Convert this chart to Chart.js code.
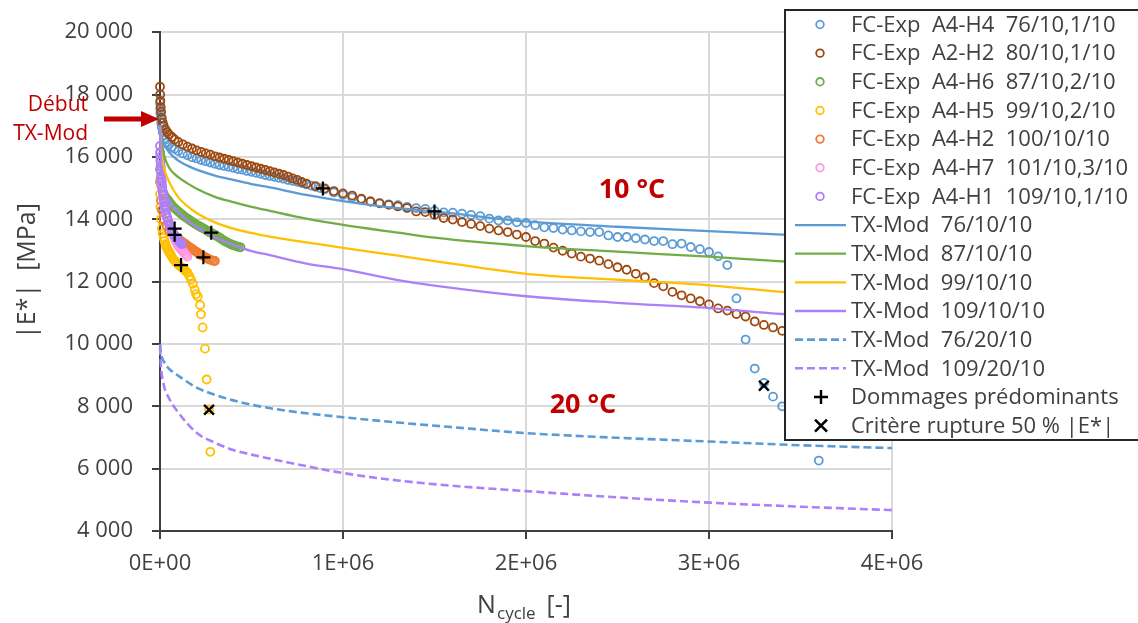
<!DOCTYPE html>
<html>
<head>
<meta charset="utf-8">
<script src="https://cdn.jsdelivr.net/npm/chart.js@4.4.1/dist/chart.umd.min.js"></script>
<style>
    html, body { margin: 0; padding: 0; background: #fff; }
    #wrap { width: 1138px; height: 623px; position: relative; }
</style>
</head>
<body>
<div id="wrap"><canvas id="modulusChart"></canvas></div>
<script>
// ---- data: [N cycles, |E*| MPa] ----
const expA4H4 = [[0,17730],[1000,17550],[2000,17400],[4000,17250],[6000,17100],[10000,16950],[15000,16800],[20000,16700],[30000,16560],[40000,16470],[50000,16400],[65000,16320],[80000,16260],[100000,16190],[125000,16110],[150000,16050],[175000,15990],[200000,15950],[225000,15900],[250000,15860],[275000,15820],[300000,15780],[325000,15740],[350000,15710],[375000,15680],[400000,15650],[425000,15610],[450000,15590],[475000,15550],[500000,15520],[525000,15490],[550000,15460],[575000,15420],[600000,15390],[625000,15360],[650000,15330],[675000,15300],[700000,15260],[725000,15230],[750000,15200],[775000,15160],[800000,15120],[825000,15080],[850000,15040],[875000,15000],[900000,14960],[950000,14860],[1000000,14780],[1050000,14700],[1100000,14640],[1150000,14570],[1200000,14520],[1250000,14480],[1300000,14450],[1350000,14400],[1400000,14360],[1450000,14330],[1500000,14270],[1550000,14220],[1600000,14210],[1650000,14180],[1700000,14140],[1750000,14100],[1800000,14020],[1850000,13960],[1900000,13960],[1950000,13900],[2000000,13880],[2050000,13810],[2100000,13740],[2150000,13720],[2200000,13670],[2250000,13640],[2300000,13610],[2350000,13590],[2400000,13590],[2450000,13480],[2500000,13430],[2550000,13430],[2600000,13390],[2650000,13350],[2700000,13300],[2750000,13300],[2800000,13200],[2850000,13220],[2900000,13110],[2950000,13040],[3000000,12950],[3050000,12810],[3100000,12530],[3150000,11460],[3200000,10140],[3250000,9210],[3300000,8750],[3350000,8310],[3400000,8000],[3600000,6260]];
const expA2H2 = [[0,18250],[1000,18000],[2000,17800],[4000,17600],[6000,17450],[10000,17250],[15000,17100],[20000,17000],[30000,16880],[40000,16790],[50000,16720],[65000,16640],[80000,16560],[100000,16480],[125000,16400],[150000,16330],[175000,16270],[200000,16210],[225000,16160],[250000,16110],[275000,16070],[300000,16020],[325000,15980],[350000,15940],[375000,15900],[400000,15860],[425000,15820],[450000,15780],[475000,15740],[500000,15700],[525000,15660],[550000,15620],[575000,15580],[600000,15540],[625000,15500],[650000,15460],[675000,15420],[700000,15370],[725000,15310],[750000,15260],[775000,15200],[800000,15140],[850000,15060],[900000,14990],[950000,14905],[1000000,14830],[1050000,14760],[1100000,14660],[1150000,14570],[1200000,14510],[1250000,14460],[1300000,14410],[1350000,14360],[1400000,14250],[1450000,14230],[1500000,14140],[1550000,14040],[1600000,13990],[1650000,13910],[1700000,13850],[1750000,13780],[1800000,13700],[1850000,13640],[1900000,13590],[1950000,13510],[2000000,13430],[2050000,13300],[2100000,13220],[2150000,13090],[2200000,12990],[2250000,12900],[2300000,12800],[2350000,12740],[2400000,12670],[2450000,12560],[2500000,12460],[2550000,12380],[2600000,12250],[2650000,12140],[2700000,11950],[2750000,11850],[2800000,11670],[2850000,11560],[2900000,11460],[2950000,11370],[3000000,11270],[3050000,11140],[3100000,11070],[3150000,10960],[3200000,10880],[3250000,10720],[3300000,10610],[3350000,10530],[3400000,10420]];
const expA4H6 = [[0,15600],[3000,15300],[6000,15100],[10000,14950],[15000,14870],[20000,14800],[25000,14750],[30000,14700],[37500,14650],[45000,14600],[52500,14540],[60000,14480],[70000,14410],[80000,14350],[90000,14300],[100000,14250],[110000,14200],[120000,14150],[130000,14100],[140000,14060],[150000,14020],[160000,13980],[170000,13940],[180000,13900],[190000,13860],[200000,13830],[210000,13790],[220000,13760],[230000,13730],[240000,13700],[250000,13660],[260000,13620],[270000,13590],[280000,13560],[290000,13530],[300000,13500],[310000,13460],[320000,13430],[330000,13390],[340000,13350],[350000,13310],[360000,13280],[370000,13250],[380000,13220],[390000,13190],[400000,13170],[410000,13150],[420000,13130],[430000,13110],[440000,13100]];
const expA4H5 = [[0,14800],[2000,14400],[5000,14000],[10000,13700],[15000,13540],[20000,13400],[25000,13300],[30000,13200],[35000,13120],[40000,13050],[45000,13000],[50000,12950],[55000,12900],[60000,12850],[67500,12770],[75000,12700],[82500,12650],[90000,12600],[97500,12560],[105000,12520],[112500,12480],[120000,12450],[127500,12410],[135000,12370],[142500,12330],[150000,12290],[160000,12180],[170000,12060],[180000,11930],[190000,11740],[197000,11600],[206000,11520],[219000,11250],[224000,10950],[233000,10530],[246000,9850],[255000,8860],[268000,7900],[275000,6540]];
const expA4H2 = [[0,15200],[5000,14600],[10000,14300],[20000,14000],[35000,13800],[50000,13650],[65000,13550],[80000,13470],[90000,13420],[100000,13380],[110000,13330],[120000,13280],[130000,13240],[140000,13200],[150000,13150],[160000,13110],[170000,13070],[180000,13030],[190000,12990],[200000,12950],[210000,12910],[220000,12870],[230000,12840],[240000,12810],[250000,12780],[260000,12740],[270000,12710],[280000,12690],[290000,12670],[300000,12660]];
const expA4H7 = [[0,16100],[1500,15900],[3000,15700],[4500,15500],[6000,15300],[8000,15120],[10000,14950],[15000,14700],[20000,14500],[25000,14340],[30000,14200],[37500,14070],[45000,13950],[52500,13820],[60000,13700],[67500,13570],[75000,13450],[82500,13340],[90000,13250],[97500,13170],[105000,13100],[112500,13050],[120000,13000],[127500,12950],[135000,12900],[142500,12850],[150000,12800]];
const expA4H1 = [[0,16350],[1000,16150],[2000,16000],[3000,15850],[4000,15700],[5500,15550],[7000,15400],[8500,15300],[10000,15200],[12500,15050],[15000,14900],[17500,14770],[20000,14650],[22500,14550],[25000,14450],[27500,14370],[30000,14300],[35000,14170],[40000,14050],[45000,13950],[50000,13850],[55000,13780],[60000,13700],[65000,13640],[70000,13580],[75000,13530],[80000,13480],[85000,13440],[90000,13400],[95000,13360],[100000,13320],[105000,13290],[110000,13250],[115000,13220],[120000,13200]];

const txMod76_10 = [[0,17020],[5000,16800],[20000,16450],[50000,16150],[100000,15880],[150000,15720],[200000,15590],[300000,15400],[400000,15260],[500000,15130],[600000,15020],[800000,14780],[1000000,14580],[1200000,14420],[1500000,14250],[2000000,13930],[2500000,13760],[3000000,13620],[3400000,13510],[4000000,13350]];
const txMod87_10 = [[0,17000],[5000,16600],[20000,16100],[50000,15650],[100000,15350],[150000,15150],[200000,14980],[300000,14720],[400000,14550],[500000,14400],[600000,14270],[800000,14020],[1000000,13820],[1300000,13570],[1500000,13410],[2000000,13140],[2500000,12960],[3000000,12800],[3400000,12650],[4000000,12480]];
const txMod99_10 = [[0,17000],[5000,16300],[20000,15700],[50000,15200],[100000,14700],[150000,14420],[200000,14200],[300000,13900],[400000,13700],[500000,13560],[600000,13440],[800000,13260],[1000000,13080],[1300000,12830],[1500000,12660],[2000000,12250],[2500000,12060],[3000000,11880],[3400000,11670],[4000000,11450]];
const txMod109_10 = [[0,17000],[3000,16200],[10000,15500],[30000,14900],[60000,14500],[100000,14230],[150000,13950],[200000,13750],[300000,13420],[400000,13180],[500000,12980],[600000,12850],[800000,12580],[1000000,12400],[1300000,12050],[1500000,11870],[2000000,11530],[2500000,11320],[3000000,11150],[3400000,10960],[4000000,10750]];
const txMod76_20 = [[0,10000],[5000,9700],[20000,9450],[50000,9200],[100000,8980],[200000,8600],[300000,8370],[400000,8190],[500000,8050],[700000,7850],[1000000,7650],[1300000,7480],[1600000,7330],[2000000,7140],[2500000,6990],[3000000,6870],[3500000,6750],[4000000,6660]];
const txMod109_20 = [[0,9900],[5000,9300],[20000,8700],[50000,8250],[100000,7800],[200000,7150],[300000,6830],[400000,6600],[500000,6450],[700000,6200],[1000000,5860],[1300000,5620],[1600000,5450],[2000000,5280],[2500000,5080],[3000000,4910],[3500000,4780],[4000000,4670]];

const damageMarks = [[890000,14990],[1500000,14250],[80000,13700],[80000,13500],[280000,13570],[237000,12780],[115000,12530]];
const ruptureMarks = [[268000,7890],[3300000,8660]];

const xTicks = [0, 1000000, 2000000, 3000000, 4000000];
const yTicks = [4000, 6000, 8000, 10000, 12000, 14000, 16000, 18000, 20000];

const FONT = 'Open Sans';
const TEXT = '#404040';
const DARK_RED = '#C00000';

function toXY(pairs) {
    return pairs.map(p => ({ x: p[0], y: p[1] }));
}

function expSet(label, pairs, color) {
    return {
        label: label, data: toXY(pairs), legendKind: 'circle',
        borderColor: color, backgroundColor: 'rgba(0,0,0,0)',
        pointRadius: 4, pointBorderWidth: 1.8, pointStyle: 'circle', showLine: false
    };
}

function modSet(label, pairs, color, dashed) {
    return {
        label: label, data: toXY(pairs), legendKind: dashed ? 'dash' : 'line',
        borderColor: color, backgroundColor: color, borderWidth: dashed ? 2.6 : 2.3,
        borderDash: dashed ? [8, 4] : [], pointRadius: 0, showLine: true,
        cubicInterpolationMode: 'monotone'
    };
}

function excelExp(v) {
    const parts = Number(v).toExponential(0).split('e');
    const exp = parts[1];
    return parts[0] + 'E' + exp[0] + exp.slice(1).padStart(2, '0');
}

function spaced(v) {
    return String(v).replace(/\B(?=(\d{3})+(?!\d))/g, ' ');
}

const datasets = [
    expSet('FC-Exp  A4-H4  76/10,1/10', expA4H4, '#5B9BD5'),
    expSet('FC-Exp  A2-H2  80/10,1/10', expA2H2, '#9E480E'),
    expSet('FC-Exp  A4-H6  87/10,2/10', expA4H6, '#70AD47'),
    expSet('FC-Exp  A4-H5  99/10,2/10', expA4H5, '#FFC000'),
    expSet('FC-Exp  A4-H2  100/10/10', expA4H2, '#ED7D31'),
    expSet('FC-Exp  A4-H7  101/10,3/10', expA4H7, '#FF96E0'),
    expSet('FC-Exp  A4-H1  109/10,1/10', expA4H1, '#AB80F8'),
    modSet('TX-Mod  76/10/10', txMod76_10, '#5B9BD5', false),
    modSet('TX-Mod  87/10/10', txMod87_10, '#70AD47', false),
    modSet('TX-Mod  99/10/10', txMod99_10, '#FFC000', false),
    modSet('TX-Mod  109/10/10', txMod109_10, '#AB80F8', false),
    modSet('TX-Mod  76/20/10', txMod76_20, '#5B9BD5', true),
    modSet('TX-Mod  109/20/10', txMod109_20, '#AB80F8', true),
    {
        label: 'Dommages prédominants', data: toXY(damageMarks), legendKind: 'cross',
        borderColor: '#000', backgroundColor: '#000', pointStyle: 'cross',
        pointRadius: 7, pointBorderWidth: 2.2, showLine: false
    },
    {
        label: 'Critère rupture 50 % |E*|', data: toXY(ruptureMarks), legendKind: 'crossRot',
        borderColor: '#000', backgroundColor: '#000', pointStyle: 'crossRot',
        pointRadius: 7, pointBorderWidth: 2.4, showLine: false
    }
];
// later series drawn on top, like the spreadsheet
datasets.forEach((d, i) => { d.order = datasets.length - i; d.clip = false; });

const boxLegend = {
    id: 'boxLegend',
    afterDraw(chart) {
        const ctx = chart.ctx;
        ctx.save();
        ctx.fillStyle = '#fff';
        ctx.fillRect(785, 10, 360, 430);
        ctx.strokeStyle = '#262626';
        ctx.lineWidth = 2;
        ctx.strokeRect(785, 10, 360, 430);
        ctx.font = '22px "' + FONT + '"';
        ctx.textBaseline = 'middle';
        ctx.textAlign = 'left';
        chart.data.datasets.forEach((d, i) => {
            const y = 24.5 + i * 28.65;
            ctx.strokeStyle = d.borderColor;
            ctx.setLineDash([]);
            if (d.legendKind === 'circle') {
                ctx.lineWidth = 1.8;
                ctx.beginPath();
                ctx.arc(820, y, 3.8, 0, Math.PI * 2);
                ctx.stroke();
            } else if (d.legendKind === 'line' || d.legendKind === 'dash') {
                ctx.lineWidth = d.borderWidth;
                ctx.setLineDash(d.borderDash);
                ctx.beginPath();
                ctx.moveTo(795, y);
                ctx.lineTo(846, y);
                ctx.stroke();
                ctx.setLineDash([]);
            } else if (d.legendKind === 'cross') {
                ctx.lineWidth = 2.4;
                ctx.beginPath();
                ctx.moveTo(814, y); ctx.lineTo(828, y);
                ctx.moveTo(821, y - 7); ctx.lineTo(821, y + 7);
                ctx.stroke();
            } else {
                ctx.lineWidth = 2.6;
                ctx.beginPath();
                ctx.moveTo(815, y - 6); ctx.lineTo(827, y + 6);
                ctx.moveTo(827, y - 6); ctx.lineTo(815, y + 6);
                ctx.stroke();
            }
            ctx.fillStyle = TEXT;
            ctx.fillText(d.label, 851, y + 1);
        });
        ctx.restore();
    }
};

const notes = {
    id: 'notes',
    afterDraw(chart) {
        const ctx = chart.ctx;
        ctx.save();
        // y axis title
        ctx.fillStyle = TEXT;
        ctx.font = '25px "' + FONT + '"';
        ctx.textAlign = 'center';
        ctx.textBaseline = 'middle';
        ctx.translate(28, 271);
        ctx.rotate(-Math.PI / 2);
        ctx.fillText('|E*|  [MPa]', 0, 0);
        ctx.restore();

        ctx.save();
        // x axis title with subscript
        ctx.fillStyle = TEXT;
        ctx.textBaseline = 'alphabetic';
        ctx.textAlign = 'left';
        ctx.font = '25px "' + FONT + '"';
        ctx.fillText('N', 477, 613);
        ctx.font = '17px "' + FONT + '"';
        ctx.fillText('cycle', 497, 619);
        ctx.font = '25px "' + FONT + '"';
        ctx.fillText(' [-]', 540, 613);

        // start marker
        ctx.fillStyle = DARK_RED;
        ctx.font = '21px "' + FONT + '"';
        ctx.textAlign = 'right';
        ctx.fillText('Début', 88, 111);
        ctx.fillText('TX-Mod', 88, 140);
        ctx.fillRect(104, 116.5, 40, 5);
        ctx.beginPath();
        ctx.moveTo(141, 111);
        ctx.lineTo(159, 119);
        ctx.lineTo(141, 127);
        ctx.closePath();
        ctx.fill();

        // temperature labels
        ctx.font = 'bold 27px "' + FONT + '"';
        ctx.textAlign = 'center';
        ctx.textBaseline = 'middle';
        ctx.fillText('10 °C', 632, 190);
        ctx.fillText('20 °C', 583, 405);
        ctx.restore();
    }
};

new Chart(document.getElementById('modulusChart').getContext('2d'), {
    type: 'scatter',
    data: { datasets: datasets },
    options: {
        responsive: true,
        maintainAspectRatio: false,
        animation: false,
        layout: { padding: { top: 25, right: 246, bottom: 0, left: 0 } },
        plugins: {
            legend: { display: false },
            tooltip: { enabled: false }
        },
        scales: {
            x: {
                type: 'linear', min: 0, max: 4000000,
                afterBuildTicks: axis => { axis.ticks = xTicks.map(v => ({ value: v })); },
                afterFit: axis => { axis.height = 92; },
                ticks: {
                    color: TEXT, padding: 12, maxRotation: 0,
                    font: { family: FONT, size: 22 },
                    callback: v => excelExp(v)
                },
                grid: { color: '#d9d9d9', lineWidth: 2, tickColor: '#404040', tickLength: 8 },
                border: { color: '#404040', width: 2 }
            },
            y: {
                min: 4000, max: 20000,
                afterBuildTicks: axis => { axis.ticks = yTicks.map(v => ({ value: v })); },
                afterFit: axis => { axis.width = 160; },
                ticks: {
                    color: TEXT, padding: 19,
                    font: { family: FONT, size: 22 },
                    callback: v => spaced(v)
                },
                grid: { color: '#d9d9d9', lineWidth: 2, tickColor: '#404040', tickLength: 8 },
                border: { color: '#404040', width: 2 }
            }
        }
    },
    plugins: [notes, boxLegend]
});
</script>
</body>
</html>
